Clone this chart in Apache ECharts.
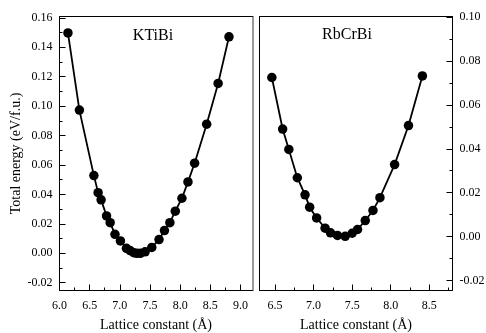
<!DOCTYPE html>
<html>
<head>
<meta charset="utf-8">
<script src="https://cdn.jsdelivr.net/npm/echarts@6/dist/echarts.min.js"></script>
<style>html,body{margin:0;padding:0;background:#fff;}#c{width:486px;height:333px;}</style>
</head>
<body>
<div id="c"></div>
<script>
var ktibiX = [6.14, 6.33, 6.57, 6.64, 6.69, 6.78, 6.84, 6.92, 7.01, 7.11, 7.17, 7.23, 7.28, 7.34, 7.42, 7.53, 7.65, 7.74, 7.83, 7.92, 8.03, 8.13, 8.24, 8.44, 8.63, 8.81];
var ktibiY = [0.1497, 0.0973, 0.0528, 0.0412, 0.0363, 0.0254, 0.0208, 0.0129, 0.0084, 0.0034, 0.0018, 0.0004, 0.0, 0.0, 0.001, 0.004, 0.0093, 0.0154, 0.0208, 0.0286, 0.0374, 0.0485, 0.0612, 0.0877, 0.1154, 0.1471];
var rbcrbiX = [6.46, 6.60, 6.68, 6.79, 6.89, 6.95, 7.04, 7.15, 7.22, 7.31, 7.41, 7.50, 7.57, 7.67, 7.77, 7.86, 8.05, 8.23, 8.41];
var rbcrbiY = [0.0725, 0.049, 0.0397, 0.0268, 0.019, 0.0134, 0.0085, 0.0038, 0.0017, 0.0005, 0.0001, 0.0015, 0.0032, 0.0073, 0.0119, 0.0177, 0.0328, 0.0506, 0.0732];

var leftXTicks = [6.0, 6.5, 7.0, 7.5, 8.0, 8.5, 9.0];
var leftXMinor = [6.25, 6.75, 7.25, 7.75, 8.25, 8.75];
var rightXTicks = [6.5, 7.0, 7.5, 8.0, 8.5];
var rightXMinor = [6.75, 7.25, 7.75, 8.25, 8.75];
var leftYTicks = [-0.02, 0.00, 0.02, 0.04, 0.06, 0.08, 0.10, 0.12, 0.14, 0.16];
var leftYMinor = [-0.01, 0.01, 0.03, 0.05, 0.07, 0.09, 0.11, 0.13, 0.15];
var rightYTicks = [-0.02, 0.00, 0.02, 0.04, 0.06, 0.08, 0.10];
var rightYMinor = [-0.01, 0.01, 0.03, 0.05, 0.07, 0.09];

var labelsLeft = 'KTiBi';
var labelsRight = 'RbCrBi';
var xTitle = 'Lattice constant (Å)';
var yTitle = 'Total energy (eV/f.u.)';

var FONT = 'Liberation Serif';
var BLACK = '#000';

function pairs(xs, ys) { return xs.map(function (x, i) { return [x, ys[i]]; }); }

function mainX(grid, min, max, ticks) {
  return {
    type: 'value', gridIndex: grid, position: 'bottom', min: min, max: max,
    axisLine: { show: true, onZero: false, lineStyle: { color: BLACK, width: 1 } },
    axisTick: { show: true, inside: true, length: 6, customValues: ticks, lineStyle: { color: BLACK, width: 1 } },
    axisLabel: { show: true, customValues: ticks, margin: 9, fontFamily: FONT, fontSize: 12, color: BLACK,
      formatter: function (v) { return v.toFixed(1); } },
    splitLine: { show: false },
    name: xTitle, nameLocation: 'middle', nameGap: 28,
    nameTextStyle: { fontFamily: FONT, fontSize: 14, color: BLACK }
  };
}
function minorX(grid, min, max, ticks) {
  return {
    type: 'value', gridIndex: grid, position: 'bottom', min: min, max: max,
    axisLine: { show: false, onZero: false },
    axisTick: { show: true, inside: true, length: 3, customValues: ticks, lineStyle: { color: BLACK, width: 1 } },
    axisLabel: { show: false }, splitLine: { show: false }
  };
}
function lineOnlyX(grid, min, max) {
  return {
    type: 'value', gridIndex: grid, position: 'top', min: min, max: max,
    axisLine: { show: true, onZero: false, lineStyle: { color: BLACK, width: 1 } },
    axisTick: { show: false }, axisLabel: { show: false }, splitLine: { show: false }
  };
}
function mainY(grid, pos, min, max, ticks, withName) {
  var a = {
    type: 'value', gridIndex: grid, position: pos, min: min, max: max,
    axisLine: { show: true, onZero: false, lineStyle: { color: BLACK, width: 1 } },
    axisTick: { show: true, inside: true, length: 6, customValues: ticks, lineStyle: { color: BLACK, width: 1 } },
    axisLabel: { show: true, customValues: ticks, margin: 7, fontFamily: FONT, fontSize: 12, color: BLACK,
      formatter: function (v) { return v.toFixed(2); } },
    splitLine: { show: false }
  };
  if (withName) {
    a.name = yTitle; a.nameLocation = 'middle'; a.nameGap = 34;
    a.nameTextStyle = { fontFamily: FONT, fontSize: 14, color: BLACK };
  }
  return a;
}
function minorY(grid, pos, min, max, ticks) {
  return {
    type: 'value', gridIndex: grid, position: pos, min: min, max: max,
    axisLine: { show: false, onZero: false },
    axisTick: { show: true, inside: true, length: 3, customValues: ticks, lineStyle: { color: BLACK, width: 1 } },
    axisLabel: { show: false }, splitLine: { show: false }
  };
}
function lineOnlyY(grid, pos, min, max, color, width) {
  return {
    type: 'value', gridIndex: grid, position: pos, min: min, max: max,
    axisLine: { show: true, onZero: false, lineStyle: { color: color, width: width } },
    axisTick: { show: false }, axisLabel: { show: false }, splitLine: { show: false }
  };
}

var LXMIN = 6.0, LXMAX = 9.2, RXMIN = 6.3, RXMAX = 8.8;
var LYMIN = -0.0253, LYMAX = 0.1609, RYMIN = -0.0246, RYMAX = 0.1003;

var chart = echarts.init(document.getElementById('c'), null, { renderer: 'canvas' });
chart.setOption({
  animation: false,
  backgroundColor: '#fff',
  grid: [
    { left: 59.5, top: 16.5, width: 193, height: 274, containLabel: false, outerBoundsMode: 'none' },
    { left: 259.5, top: 16.5, width: 193, height: 274, containLabel: false, outerBoundsMode: 'none' }
  ],
  xAxis: [
    mainX(0, LXMIN, LXMAX, leftXTicks),
    minorX(0, LXMIN, LXMAX, leftXMinor),
    lineOnlyX(0, LXMIN, LXMAX),
    mainX(1, RXMIN, RXMAX, rightXTicks),
    minorX(1, RXMIN, RXMAX, rightXMinor),
    lineOnlyX(1, RXMIN, RXMAX)
  ],
  yAxis: [
    mainY(0, 'left', LYMIN, LYMAX, leftYTicks, true),
    minorY(0, 'left', LYMIN, LYMAX, leftYMinor),
    lineOnlyY(0, 'right', LYMIN, LYMAX, '#777', 1.5),
    lineOnlyY(1, 'left', RYMIN, RYMAX, BLACK, 1),
    mainY(1, 'right', RYMIN, RYMAX, rightYTicks, false),
    minorY(1, 'right', RYMIN, RYMAX, rightYMinor)
  ],
  series: [
    { type: 'line', xAxisIndex: 0, yAxisIndex: 0, data: pairs(ktibiX, ktibiY),
      symbol: 'circle', symbolSize: 9.5, itemStyle: { color: BLACK }, lineStyle: { color: BLACK, width: 1.8 } },
    { type: 'line', xAxisIndex: 3, yAxisIndex: 4, data: pairs(rbcrbiX, rbcrbiY),
      symbol: 'circle', symbolSize: 9.5, itemStyle: { color: BLACK }, lineStyle: { color: BLACK, width: 1.8 } }
  ],
  graphic: [
    { type: 'text', x: 153, y: 36, style: { text: labelsLeft, font: '16px "Liberation Serif"', fill: BLACK, textAlign: 'center', textVerticalAlign: 'middle' } },
    { type: 'text', x: 347, y: 35, style: { text: labelsRight, font: '16px "Liberation Serif"', fill: BLACK, textAlign: 'center', textVerticalAlign: 'middle' } }
  ]
});
</script>
</body>
</html>
